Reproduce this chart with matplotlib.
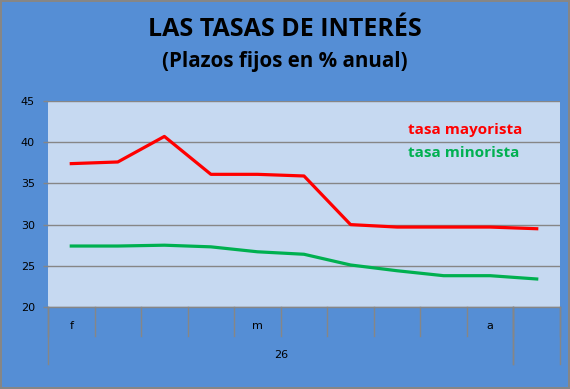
import matplotlib.pyplot as plt
import matplotlib.transforms as mtransforms

# data
month_labels = ['f', '', '', '', 'm', '', '', '', '', 'a', '']
year_groups = [('26', 0, 10), ('', 10, 11)]
mayorista = [37.4, 37.6, 40.7, 36.1, 36.1, 35.9, 30.0, 29.7, 29.7, 29.7, 29.5]
minorista = [27.4, 27.4, 27.5, 27.3, 26.7, 26.4, 25.1, 24.4, 23.8, 23.8, 23.4]
y_ticks = [20, 25, 30, 35, 40, 45]

bg = '#558ED5'
plot_bg = '#C6D9F1'
grey = '#868686'

fig = plt.figure(figsize=(5.7, 3.89), dpi=100, facecolor=bg,
                 edgecolor=grey, linewidth=1.5)
ax = fig.add_axes([48/570, 1-307/389, 512/570, 206/389])
ax.set_facecolor(plot_bg)

n = len(mayorista)
xs = [i + 0.5 for i in range(n)]
ax.plot(xs, mayorista, color='#FF0000', lw=2.3)
ax.plot(xs, minorista, color='#00B050', lw=2.3)

ax.set_xlim(0, n)
ax.set_ylim(20, 45)
ax.set_yticks(y_ticks)
ax.yaxis.grid(True, color=grey, lw=1)
ax.set_axisbelow(True)
ax.tick_params(axis='y', colors=grey, length=3.5, width=1, labelsize=8,
               labelcolor='black', pad=6)
ax.set_xticks([])
for s in ['top', 'right', 'left']:
    ax.spines[s].set_visible(False)
ax.spines['bottom'].set_color(grey)
ax.spines['bottom'].set_linewidth(1)

# multi-level category axis
trans = mtransforms.blended_transform_factory(ax.transData, ax.transAxes)
lvl1 = -29/206
lvl2 = -57/206
for i in range(n + 1):
    ax.plot([i, i], [0, lvl1], color=grey, lw=1, transform=trans,
            clip_on=False)
for i, lab in enumerate(month_labels):
    ax.text(i + 0.5, -19/206, lab, transform=trans, ha='center', va='center',
            fontsize=8)
for lab, a, b in year_groups:
    for xx in (a, b):
        ax.plot([xx, xx], [0, lvl2], color=grey, lw=1, transform=trans,
                clip_on=False)
    ax.text((a + b) / 2, -48/206, lab, transform=trans, ha='center',
            va='center', fontsize=8)

# legend as text labels
ax.text(408/570, 1-130/389, 'tasa mayorista', transform=fig.transFigure,
        color='#FF0000', fontsize=11, fontweight='bold', family='Open Sans',
        va='center', ha='left')
ax.text(408/570, 1-153/389, 'tasa minorista', transform=fig.transFigure,
        color='#00B050', fontsize=11, fontweight='bold', family='Open Sans',
        va='center', ha='left')

fig.text(0.5, 1-30/389, 'LAS TASAS DE INTERÉS', ha='center', va='center',
         fontsize=18, fontweight='bold', family='Open Sans')
fig.text(0.5, 1-62/389, '(Plazos fijos en % anual)', ha='center', va='center',
         fontsize=14.8, fontweight='bold', family='Open Sans')

fig.savefig('out.png', dpi=100, facecolor=bg, edgecolor=grey)
